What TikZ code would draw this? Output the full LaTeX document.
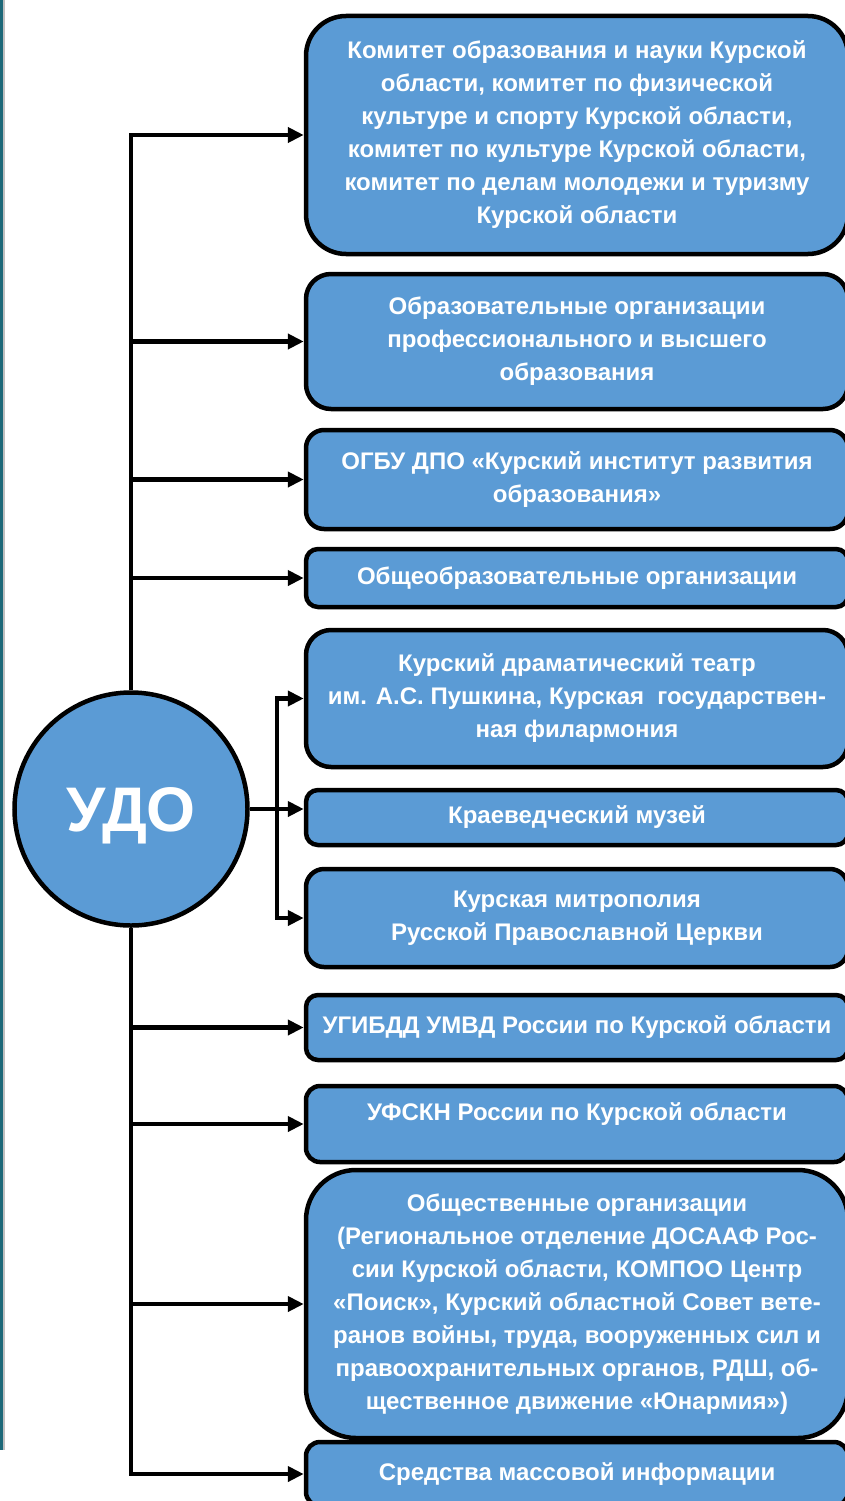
\documentclass[tikz,border=0pt]{standalone}
\usepackage{fontspec}
\setmainfont{Liberation Sans}
\usetikzlibrary{arrows.meta,positioning}

\definecolor{boxblue}{RGB}{91,155,213}
\definecolor{edgeteal}{RGB}{28,104,120}

\begin{document}
\begin{tikzpicture}[x=1pt,y=-1pt,
    org/.style={draw=black,line width=4.5pt,fill=boxblue,text=white,
        font=\fontsize{24}{33}\selectfont\bfseries,align=center,
        minimum width=542pt,inner sep=0pt},
    link/.style={line width=4.5pt,-{Triangle[length=16pt,width=15pt]}}]

\useasboundingbox (0,0) rectangle (844,1501);

% Page edge
\fill[edgeteal] (0,0) rectangle (3,1450);
\fill[gray!50] (3,0) rectangle (4.5,1450);

% Centre
\node[circle,draw=black,line width=4.5pt,fill=boxblue,text=white,
    minimum size=233pt,inner sep=0pt,text depth=0pt,
    font=\fontsize{63}{63}\selectfont\bfseries] (udo) at (131,809) {УДО};

% Partners
\node[org,minimum height=238pt,rounded corners=40pt] (b1) at (577,135)
    {Комитет образования и науки Курской\\области, комитет по физической\\культуре и спорту Курской области,\\комитет по культуре Курской области,\\комитет по делам молодежи и туризму\\Курской области};
\node[org,minimum height=135pt,rounded corners=25pt] (b2) at (577,341.5)
    {Образовательные организации\\профессионального и высшего\\образования};
\node[org,minimum height=99pt,rounded corners=18pt] (b3) at (577,479.5)
    {ОГБУ ДПО «Курский институт развития\\образования»};
\node[org,minimum height=58pt,rounded corners=12pt] (b4) at (577,578)
    {Общеобразовательные организации};
\node[org,minimum height=137pt,rounded corners=25pt] (b5) at (577,698.5)
    {Курский драматический театр\\им. А.С. Пушкина, Курская\ \ государствен-\\ная филармония};
\node[org,minimum height=55pt,rounded corners=12pt] (b6) at (577,817.5)
    {Краеведческий музей};
\node[org,minimum height=98pt,rounded corners=18pt] (b7) at (577,918)
    {Курская митрополия\\Русской Православной Церкви};
\node[org,minimum height=65pt,rounded corners=12pt] (b8) at (577,1027.5)
    {УГИБДД УМВД России по Курской области};
\node[org,minimum height=76pt,rounded corners=14pt,text depth=24pt] (b9) at (577,1124)
    {УФСКН России по Курской области};
\node[org,minimum height=268pt,rounded corners=50pt] (b10) at (577,1304)
    {Общественные организации\\(Региональное отделение ДОСААФ Рос-\\сии Курской области, КОМПОО Центр\\«Поиск», Курский областной Совет вете-\\ранов войны, труда, вооруженных сил и\\правоохранительных органов, РДШ, об-\\щественное движение «Юнармия»)};
\node[org,minimum height=64pt,rounded corners=14pt] (b11) at (577,1474)
    {Средства массовой информации};

% Upper branch
\draw[link] (udo.north) |- (b1.west);
\draw[link] (udo.north) |- (b2.west);
\draw[link] (udo.north) |- (b3.west);
\draw[link] (udo.north) |- (b4.west);

% Culture fork
\coordinate (fork) at (277,809);
\draw[link] (udo.east) -- (udo.east -| b6.west);
\draw[link] (fork) |- (b5.west);
\draw[link] (fork) |- (b7.west);

% Lower branch
\draw[link] (udo.south) |- (b8.west);
\draw[link] (udo.south) |- (b9.west);
\draw[link] (udo.south) |- (b10.west);
\draw[link] (udo.south) |- (b11.west);

\end{tikzpicture}
\end{document}
